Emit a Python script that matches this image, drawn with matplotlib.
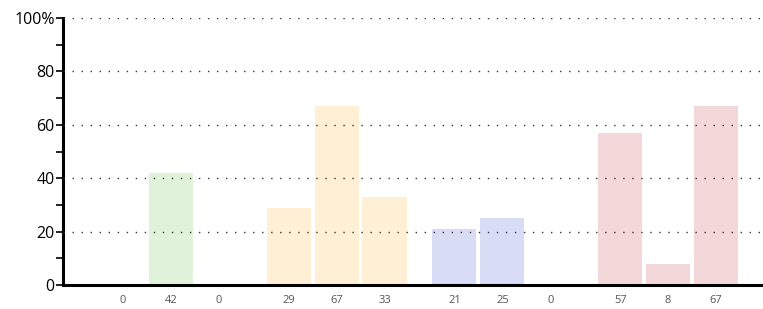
import numpy as np
import matplotlib.pyplot as plt
from matplotlib.ticker import MultipleLocator

plt.rcParams['font.family'] = ['Open Sans', 'DejaVu Sans']

groups = ["g1", "g2", "g3", "g4"]
values = [
    [0, 42, 0],
    [29, 67, 33],
    [21, 25, 0],
    [57, 8, 67],
]
colors = ["#e0f3da", "#fff0d5", "#d9dcf5", "#f3d8d9"]

group_step = 3.46
fig = plt.figure(figsize=(7.63, 3.09), dpi=100)
ax = fig.add_axes([63 / 763, 24 / 309, 1 - 63 / 763, (285 - 18) / 309])

pos, labels = [], []
for g, (vals, col) in enumerate(zip(values, colors)):
    x = g * group_step + np.arange(len(vals))
    ax.bar(x, vals, width=0.92, color=col, zorder=1)
    pos.extend(x)
    labels.extend(str(v) for v in vals)

ax.set_xlim(-1.25, 13.36)
ax.set_ylim(0, 100)
ax.set_xticks(pos)
ax.set_xticklabels(labels, color="#555555", fontsize=8)
ax.tick_params(axis="x", length=0, pad=7)

ax.yaxis.set_minor_locator(MultipleLocator(10))
ax.set_yticks(range(0, 101, 20))
ax.set_yticklabels(["0", "20", "40", "60", "80", "100%"], fontsize=11.5)
ax.tick_params(axis="y", which="both", length=5, width=1.2, pad=1)

ax.grid(axis="y", color="#333333", linestyle=(0, (1, 5.5)), linewidth=1, zorder=2)
ax.set_axisbelow(False)
for s in ["top", "right"]:
    ax.spines[s].set_visible(False)
for s in ["left", "bottom"]:
    ax.spines[s].set_linewidth(2.2)
ax.spines["bottom"].set_zorder(3)

fig.savefig("out.png", dpi=100)
